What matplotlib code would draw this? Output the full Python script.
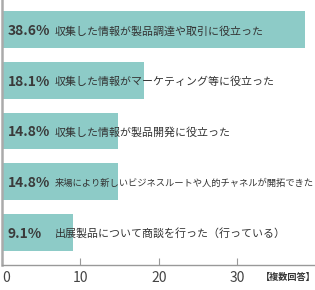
import numpy as np
import matplotlib.pyplot as plt

plt.rcParams['font.family'] = ['Noto Sans CJK JP', 'DejaVu Sans']

labels = [
    "収集した情報が製品調達や取引に役立った",
    "収集した情報がマーケティング等に役立った",
    "収集した情報が製品開発に役立った",
    "来場により新しいビジネスルートや人的チャネルが開拓できた",
    "出展製品について商談を行った（行っている）",
]
values = [38.6, 18.1, 14.8, 14.8, 9.1]
xticks = [0, 10, 20, 30]

bar_color = "#8dcbc7"
text_color = "#333333"

fig = plt.figure(figsize=(3.15, 2.9), dpi=100)
ax = fig.add_axes([2 / 315, 25 / 290, 313 / 315, 265 / 290])

y = np.arange(len(values))
ax.barh(y, values, height=0.73, color=bar_color, edgecolor="none", zorder=2)

for i, (v, lab) in enumerate(zip(values, labels)):
    ax.text(0.75, i + 0.03, f"{v}%", ha="left", va="center", fontsize=10,
            fontweight="bold", color="#3a3a3a", zorder=3)
    # the long label only just fits the width
    size = 6.7 if len(lab) > 25 else 7.9
    ax.text(6.75, i + 0.03, lab, ha="left", va="center", fontsize=size,
            color=text_color, zorder=3, clip_on=False)

ax.set_xlim(0, 39.9)
ax.set_ylim(4.65, -0.59)
ax.set_yticks([])
ax.set_xticks(xticks)
ax.set_xticklabels([str(t) for t in xticks])
ax.get_xticklabels()[0].set_ha("left")
ax.tick_params(axis="x", direction="in", length=5, width=0.8, color="#999999",
               labelsize=10, labelcolor="#444444", pad=4)

for s in ["top", "right"]:
    ax.spines[s].set_visible(False)
ax.spines["left"].set_color("#aaaaaa")
ax.spines["left"].set_linewidth(1.8)
ax.spines["bottom"].set_color("#999999")
ax.spines["bottom"].set_linewidth(1.0)

fig.text(261 / 315, 1 - 277 / 290, "【複数回答】", ha="left", va="center",
         fontsize=6.6, fontweight="bold", color=text_color)

fig.savefig("out.png", dpi=100)
